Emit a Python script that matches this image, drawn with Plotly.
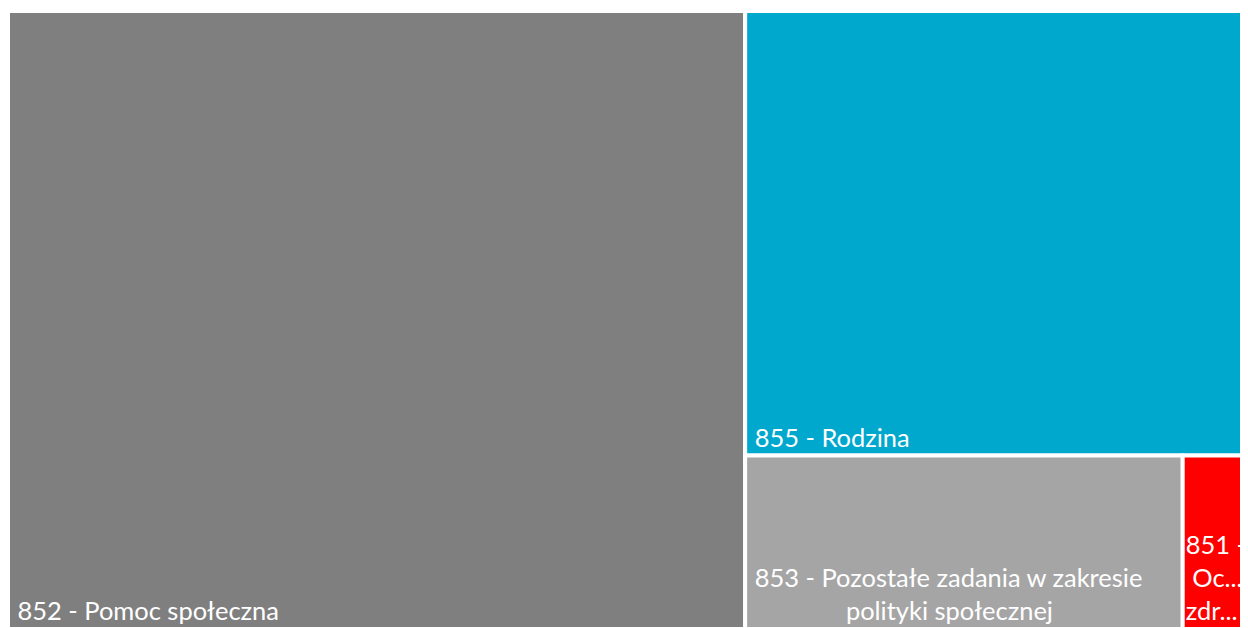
import plotly.graph_objects as go

NB = "\u00a0"

labels = [
    "852 - Pomoc społeczna",
    "855 - Rodzina",
    "853 - Pozostałe zadania w zakresie polityki społecznej",
    "851 - Ochrona zdrowia",
]
display_text = [
    NB + "852 - Pomoc społeczna",
    NB + "855 - Rodzina",
    NB + "853 - Pozostałe zadania w zakresie<br>" + NB * 15 + "polityki społecznej",
    "851 -<br>" + NB + "Oc...<br>zdr...",
]
values = [59.4, 29.2, 9.9, 1.5]
colors = ["#7F7F7F", "#00A8CD", "#A5A5A5", "#FF0000"]

fig = go.Figure(go.Treemap(
    labels=labels,
    parents=[""] * len(labels),
    values=values,
    text=display_text,
    texttemplate="%{text}",
    textposition="bottom left",
    textfont=dict(family="Lato", size=27, color="white"),
    marker=dict(colors=colors, line=dict(color="white", width=4),
                pad=dict(t=0, l=0, r=0, b=0)),
    tiling=dict(packing="squarify", pad=0),
    sort=True,
    hoverinfo="label+value",
    pathbar=dict(visible=False),
    domain=dict(x=[0, 1], y=[0, 1]),
))
fig.update_layout(
    width=1241, height=621,
    autosize=False,
    margin=dict(l=0, r=0, t=3, b=0, pad=0, autoexpand=False),
    paper_bgcolor="white",
    uniformtext=dict(minsize=22, mode="show"),
)
fig.write_html("out.html")
